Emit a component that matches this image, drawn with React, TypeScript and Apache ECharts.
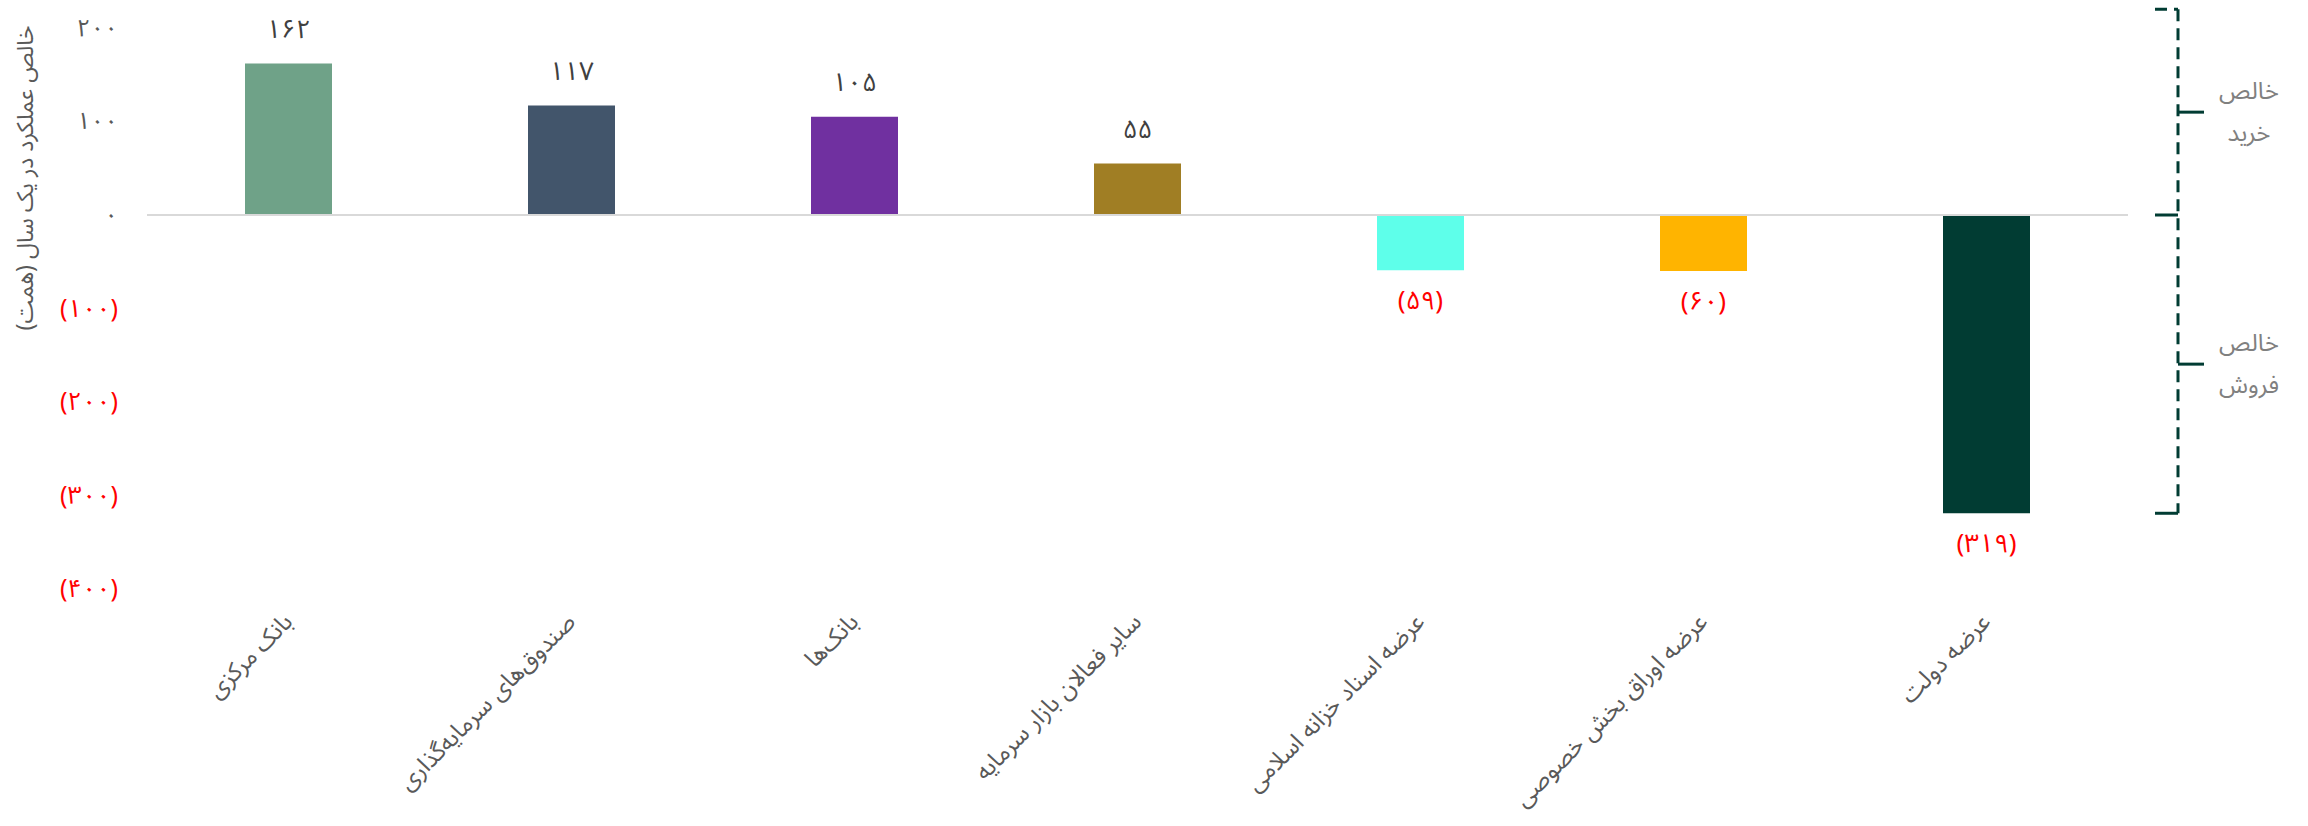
import React, { useEffect, useRef } from 'react';
import * as echarts from 'echarts';

const categories = [
  'بانک مرکزی',
  'صندوق\u200cهای سرمایه\u200cگذاری',
  'بانک\u200cها',
  'سایر فعالان بازار سرمایه',
  'عرضه اسناد خزانه اسلامی',
  'عرضه اوراق بخش خصوصی',
  'عرضه دولت',
];
const values = [162, 117, 105, 55, -59, -60, -319];
const barColors = ['#6fa288', '#42556b', '#7030a0', '#a07e24', '#5effea', '#ffb400', '#013c33'];
const yMin = -400;
const yMax = 200;
const yInterval = 100;
const yTitle = 'خالص عملکرد در یک سال (همت)';
const bracketBuyLines = ['خالص', 'خرید'];
const bracketSellLines = ['خالص', 'فروش'];
const bracketTopValue = 220;

const FONT = "'Noto Sans Arabic', 'Vazirmatn', 'DejaVu Sans', sans-serif";
const faDigits = '۰۱۲۳۴۵۶۷۸۹';
const toFa = (n: number) => String(n).replace(/[0-9]/g, (d) => faDigits[Number(d)]);
const fmt = (v: number) => (v < 0 ? `(${toFa(Math.abs(v))})` : toFa(v));

export default function App() {
  const ref = useRef<HTMLDivElement>(null);
  useEffect(() => {
    if (!ref.current) return;
    const chart = echarts.init(ref.current, undefined, { renderer: 'svg' });
    const data = values.map((v, i) => ({
      value: v,
      itemStyle: { color: barColors[i] },
      label: {
        position: v >= 0 ? 'top' : 'bottom',
        distance: v >= 0 ? 21 : 17,
        color: v >= 0 ? '#404040' : '#ff0000',
      },
    }));
    chart.setOption({
      animation: false,
      textStyle: { fontFamily: FONT },
      grid: { left: 147, right: 180, top: 28, bottom: 237, containLabel: false },
      xAxis: {
        type: 'category',
        data: categories,
        axisLine: { show: false },
        axisTick: { show: false },
        axisLabel: {
          rotate: 45,
          margin: 29,
          fontSize: 24,
          color: '#595959',
          fontFamily: FONT,
          interval: 0,
        },
      },
      yAxis: {
        type: 'value',
        min: yMin,
        max: yMax,
        interval: yInterval,
        axisLine: { show: false },
        axisTick: { show: false },
        splitLine: { show: false },
        axisLabel: {
          margin: 29,
          formatter: (v: number) => (v < 0 ? `{neg|${fmt(v)}}` : `{pos|${fmt(v)}}`),
          rich: {
            pos: { color: '#595959', fontSize: 24, fontFamily: FONT },
            neg: { color: '#ff0000', fontSize: 25, fontFamily: FONT },
          },
        },
      },
      series: [
        {
          type: 'bar',
          barWidth: 87,
          data,
          label: {
            show: true,
            fontSize: 26,
            fontFamily: FONT,
            formatter: (p: any) => fmt(p.value),
          },
          markLine: {
            silent: true,
            symbol: 'none',
            label: { show: false },
            lineStyle: { color: '#d9d9d9', width: 2, type: 'solid' },
            data: [{ yAxis: 0 }],
          },
        },
      ],
    });

    const py = (v: number) => chart.convertToPixel({ yAxisIndex: 0 }, v) as number;
    const yTop = py(bracketTopValue);
    const y0 = py(0);
    const yBot = py(Math.min(...values));
    const yUp = (yTop + y0) / 2;
    const yLow = (y0 + yBot) / 2;
    const xv = 2178;
    const stroke = '#013c33';
    const dashed = { stroke, lineWidth: 3, lineDash: [12, 7] };
    const solid = { stroke, lineWidth: 3 };
    const lineText = (text: string, y: number) => ({
      type: 'text',
      x: 2249,
      y,
      style: {
        text,
        fill: '#808080',
        fontSize: 24,
        fontFamily: FONT,
        align: 'center',
        verticalAlign: 'middle',
      },
    });
    const gap = 21;
    chart.setOption({
      graphic: [
        {
          type: 'text',
          x: 25,
          y: 178,
          rotation: Math.PI / 2,
          style: {
            text: yTitle,
            fill: '#595959',
            fontSize: 23,
            fontFamily: FONT,
            align: 'center',
            verticalAlign: 'middle',
          },
        },
        { type: 'line', shape: { x1: xv, y1: yTop, x2: xv, y2: yBot }, style: dashed },
        { type: 'line', shape: { x1: 2155, y1: yTop, x2: xv, y2: yTop }, style: dashed },
        { type: 'line', shape: { x1: 2155, y1: y0, x2: xv, y2: y0 }, style: solid },
        { type: 'line', shape: { x1: 2155, y1: yBot, x2: xv, y2: yBot }, style: solid },
        { type: 'line', shape: { x1: xv, y1: yUp, x2: 2204, y2: yUp }, style: solid },
        { type: 'line', shape: { x1: xv, y1: yLow, x2: 2204, y2: yLow }, style: solid },
        lineText(bracketBuyLines[0], yUp - gap),
        lineText(bracketBuyLines[1], yUp + gap),
        lineText(bracketSellLines[0], yLow - gap),
        lineText(bracketSellLines[1], yLow + gap),
      ],
    });
    return () => chart.dispose();
  }, []);
  return (
    <div
      ref={ref}
      style={{ position: 'fixed', left: 0, top: 0, width: 2308, height: 826, background: '#fff' }}
    />
  );
}
